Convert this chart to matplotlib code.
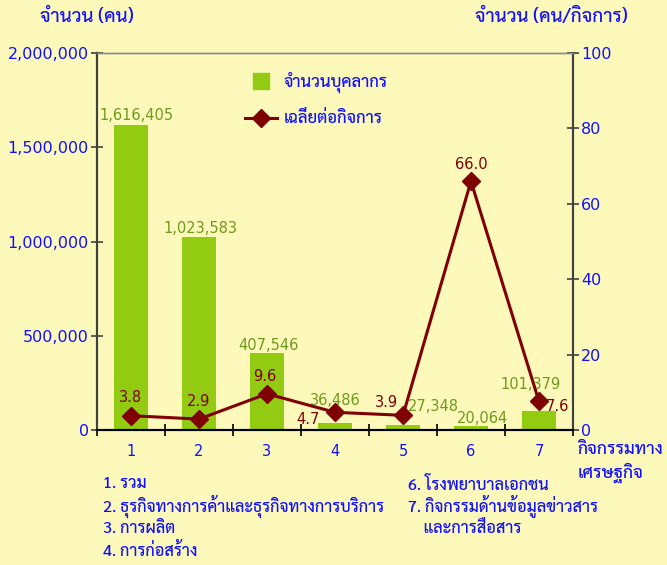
import matplotlib
matplotlib.use('Agg')
import matplotlib.pyplot as plt
from matplotlib.lines import Line2D

plt.rcParams['font.family'] = ['DejaVu Sans', 'Sarabun']
THAI = ['Sarabun', 'DejaVu Sans']

BG = '#fdf9bb'
BLUE = '#1010ff'
BAR_GREEN = '#92cb12'
LABEL_GREEN = '#6f9a1c'
DARK_RED = '#7f0000'

categories = ['1', '2', '3', '4', '5', '6', '7']
staff = [1616405, 1023583, 407546, 36486, 27348, 20064, 101379]
staff_labels = ['1,616,405', '1,023,583', '407,546', '36,486', '27,348', '20,064', '101,379']
per_firm = [3.8, 2.9, 9.6, 4.7, 3.9, 66.0, 7.6]

# label offsets in pixels (dx, dy)
bar_label_off = [(6, 10), (1, 9), (2, 8), (0, 23), (30, 18), (12, 8), (-8, 26)]
line_label_off = [(0, 18), (0, 18), (-2, 17), (-27, -7), (-16, 13), (0, 17), (18, -5)]

notes_left = ['1. รวม', '2. ธุรกิจทางการค้าและธุรกิจทางการบริการ', '3. การผลิต', '4. การก่อสร้าง']
notes_right = ['6. โรงพยาบาลเอกชน', '7. กิจกรรมด้านข้อมูลข่าวสาร', '    และการสื่อสาร']

fig = plt.figure(figsize=(6.67, 5.65), dpi=100, facecolor=BG)
ax = fig.add_axes([0.1454, 0.2389, 0.7136, 0.6673])
ax.set_facecolor(BG)
x = list(range(len(categories)))

ax.bar(x, staff, width=0.5, color=BAR_GREEN, zorder=2)
ax.set_xlim(-0.5, 6.5)
ax.set_ylim(0, 2000000)
ax.set_yticks([0, 500000, 1000000, 1500000, 2000000])
ax.set_yticklabels(['0', '500,000', '1,000,000', '1,500,000', '2,000,000'])
ax.set_xticks(x)
ax.set_xticklabels(categories)
ax.set_xticks([i + 0.5 for i in range(-1, 7)], minor=True)
ax.tick_params(axis='x', which='major', length=0, pad=10, labelsize=10.5, labelcolor=BLUE)
ax.tick_params(axis='x', which='minor', direction='inout', length=8, width=1.2, color='black')
ax.tick_params(axis='y', direction='inout', length=8, width=1.2, color='#404040', labelsize=11.5, labelcolor=BLUE, pad=2)

for i, v in enumerate(staff):
    ax.annotate(staff_labels[i], (x[i], v), xytext=bar_label_off[i], textcoords='offset pixels',
                ha='center', va='center', fontsize=10.5, color=LABEL_GREEN, zorder=5)

ax2 = ax.twinx()
ax2.set_ylim(0, 100)
ax2.set_yticks([0, 20, 40, 60, 80, 100])
ax2.tick_params(axis='y', direction='inout', length=8, width=1.2, color='#404040', labelsize=11.5, labelcolor=BLUE, pad=2)
ax2.plot(x, per_firm, color=DARK_RED, lw=2.2, marker='D', markersize=9, zorder=4)
for i, v in enumerate(per_firm):
    ax2.annotate('%.1f' % v, (x[i], v), xytext=line_label_off[i], textcoords='offset pixels',
                 ha='center', va='center', fontsize=10.5, color=DARK_RED, zorder=5)

for a in (ax, ax2):
    a.spines['top'].set_color('#8a8a8a')
    a.spines['top'].set_linewidth(1.0)
    a.spines['left'].set_color('#404040')
    a.spines['right'].set_color('#404040')
    a.spines['left'].set_linewidth(1.5)
    a.spines['right'].set_linewidth(1.5)
    a.spines['bottom'].set_color('black')
    a.spines['bottom'].set_linewidth(1.5)

handles = [Line2D([], [], color=BAR_GREEN, marker='s', linestyle='none', markersize=12),
           Line2D([], [], color=DARK_RED, lw=2.2, marker='D', markersize=9)]
leg = ax2.legend(handles, ['จำนวนบุคลากร', 'เฉลี่ยต่อกิจการ'], loc='upper left',
                 bbox_to_anchor=(0.345, 0.9), bbox_transform=fig.transFigure,
                 frameon=False, prop={'family': THAI, 'size': 12, 'weight': 'medium'},
                 labelspacing=1.05, handlelength=1.9, handletextpad=0.4)
for t in leg.get_texts():
    t.set_color(BLUE)

tkw = dict(color=BLUE, family=THAI, weight='medium', va='center', ha='left')
fig.text(0.06, 0.97, 'จำนวน (คน)', fontsize=13.5, **tkw)
fig.text(0.712, 0.97, 'จำนวน (คน/กิจการ)', fontsize=13.5, **tkw)
fig.text(0.866, 0.204, 'กิจกรรมทาง', fontsize=12.5, **tkw)
fig.text(0.866, 0.164, 'เศรษฐกิจ', fontsize=12.5, **tkw)

for i, s in enumerate(notes_left):
    fig.text(0.154, 0.143 - i * 0.039, s, fontsize=11.7, **tkw)
for i, s in enumerate(notes_right):
    fig.text(0.612, 0.143 - i * 0.039, s, fontsize=11.7, **tkw)

fig.savefig('out.png', dpi=100, facecolor=BG)
